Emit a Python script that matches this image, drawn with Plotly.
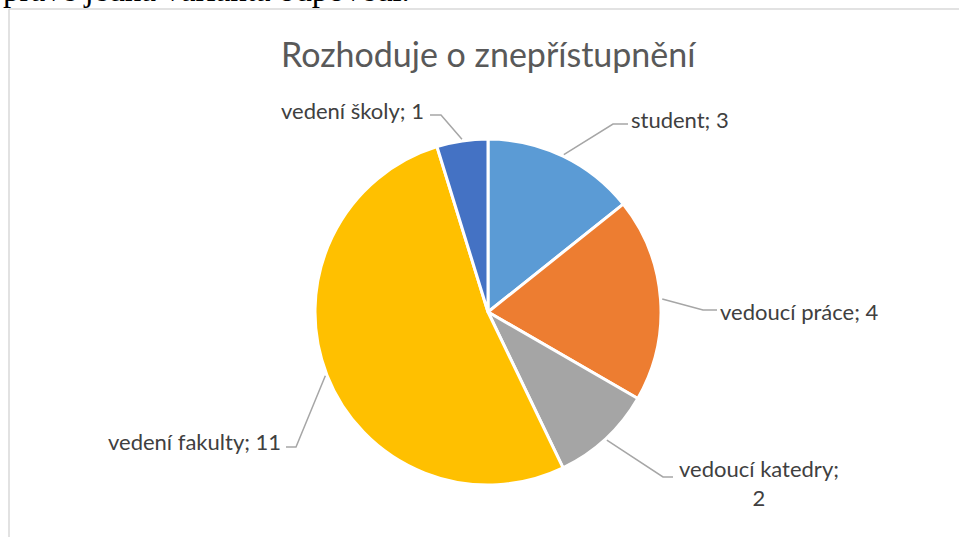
import math
import plotly.graph_objects as go

# ---- data ----
categories = ["student", "vedoucí práce", "vedoucí katedry", "vedení fakulty", "vedení školy"]
values = [3, 4, 2, 11, 1]
colors = ["#5B9BD5", "#ED7D31", "#A5A5A5", "#FFC000", "#4472C4"]
title_text = "Rozhoduje o znepřístupnění"
doc_text = "právě jedna varianta odpovědi."

# ---- layout constants (pixels) ----
W, H = 959, 537
CX, CY, R = 488, 312, 173

# label layout: (elbow_x, elbow_y, end_x, end_y, text_x, text_y, anchor)
label_layout = {
    "student":         (613, 124, 628, 124, 629, 120, "left"),
    "vedoucí práce":   (703, 310, 717, 310, 718, 311, "left"),
    "vedoucí katedry": (663, 477, 673, 477, 759, 483, "center"),
    "vedení fakulty":  (296, 447, 286, 447, 283, 441, "right"),
    "vedení školy":    (441, 115, 430, 115, 426, 110, "right"),
}


def px(x):
    return x / W


def py(y):
    return 1 - y / H


fig = go.Figure()
fig.add_trace(go.Pie(
    labels=categories,
    values=values,
    sort=False,
    direction="clockwise",
    rotation=0,
    marker=dict(colors=colors, line=dict(color="white", width=3)),
    textinfo="none",
    hoverinfo="label+value",
    showlegend=False,
    domain=dict(x=[px(CX - R), px(CX + R)], y=[py(CY + R), py(CY - R)]),
))

shapes = []
annotations = []
total = sum(values)
cum = 0
for cat, v in zip(categories, values):
    mid = (cum + v / 2) / total * 2 * math.pi
    cum += v
    sx = CX + R * 1.01 * math.sin(mid)
    sy = CY - R * 1.01 * math.cos(mid)
    ex, ey, tx, ty, lx, ly, anchor = label_layout[cat]
    path = f"M {px(sx)} {py(sy)} L {px(ex)} {py(ey)} L {px(tx)} {py(ty)}"
    shapes.append(dict(type="path", path=path, xref="paper", yref="paper",
                       line=dict(color="#A6A6A6", width=1.5)))
    if cat == "vedoucí katedry":
        txt = f"{cat};<br>{v}"
    else:
        txt = f"{cat}; {v}"
    annotations.append(dict(
        x=px(lx), y=py(ly), xref="paper", yref="paper", text=txt,
        showarrow=False, xanchor=anchor, yanchor="middle", align="center",
        font=dict(family="Lato", size=22, color="#404040"),
    ))

# chart frame
shapes.append(dict(type="line", xref="paper", yref="paper", x0=px(9), x1=px(W), y0=py(9), y1=py(9),
                   line=dict(color="#D9D9D9", width=1.5)))
shapes.append(dict(type="line", xref="paper", yref="paper", x0=px(9), x1=px(9), y0=py(9), y1=0,
                   line=dict(color="#D9D9D9", width=1.5)))

# title
annotations.append(dict(x=px(489), y=py(53), xref="paper", yref="paper", text=title_text,
                        showarrow=False, xanchor="center", yanchor="middle",
                        font=dict(family="Lato", size=34, color="#595959")))
# document text cut at top
annotations.append(dict(x=px(412), y=py(-10), xref="paper", yref="paper", text=doc_text,
                        showarrow=False, xanchor="right", yanchor="middle",
                        font=dict(family="Liberation Serif", size=33, color="#000000")))

fig.update_layout(
    width=W, height=H,
    margin=dict(l=0, r=0, t=0, b=0),
    paper_bgcolor="white", plot_bgcolor="white",
    shapes=shapes, annotations=annotations,
)

fig.write_html("out.html", config={"displayModeBar": False},
               post_script="document.body.style.margin='0';document.body.style.overflow='hidden';")
